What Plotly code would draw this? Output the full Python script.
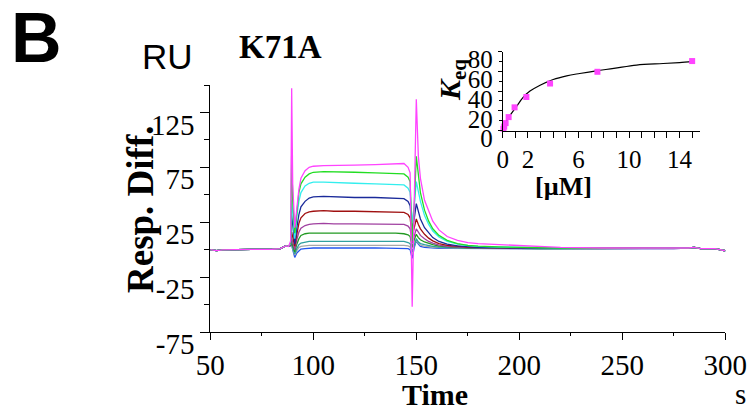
import plotly.graph_objects as go

# ---------------- data ----------------
time_s = [50, 53, 56, 60, 70, 80, 84, 86, 87, 88, 89, 89.5, 90, 91, 92, 93, 94, 96, 98, 100,
          105, 110, 120, 130, 140, 144, 146, 147, 148, 149, 150, 151, 152, 154, 156, 158, 161,
          165, 170, 175, 180, 190, 200, 210, 220, 240, 260, 275, 282, 285, 288, 295, 298, 300]

pre = [0, -0.8, -0.2, 0.1, 0.2, 0.4, 1, 3, 3.5, 3]
tail_hi = [1.2, 1, 1.5, 2, 1, 1, -0.5, -1]

resp_magenta = pre + [8, 147, 60, 20, 40, 55, 65, 72, 75, 76, 76.5, 76.5, 77, 77.5, 78, 78.5, 75, 70,
                      -52, 45, 137, 85, 65, 45, 35, 26, 18, 12, 8.5, 6.5, 5.5, 4.5, 3.5, 3, 2, 1.5] + tail_hi
resp_green = pre + [6, 90, 45, 15, 35, 52, 60, 66, 69, 70.5, 71, 71, 70.5, 70, 69.5, 69, 66, 62,
                    8, 40, 85, 65, 52, 36, 26, 19, 13, 8.5, 5.5, 4, 3.2, 2.5, 2, 1.8, 1.5, 1.2] + tail_hi
resp_cyan = pre + [5, 45, 30, 10, 30, 44, 52, 58, 60.5, 61.5, 61.5, 61, 60.5, 60, 59.5, 59, 56, 52,
                   25, 40, 62, 52, 44, 31, 23, 17, 11.5, 7.5, 5, 3.8, 3, 2.3, 2, 1.7, 1.5, 1.2] + tail_hi
resp_navy = pre + [4.5, 32, 22, 5, 20, 32, 39, 44, 47, 48, 48.5, 48, 47.5, 47.5, 47, 46.5, 44, 40,
                   18, 28, 42, 34, 28, 20, 15, 11, 7.5, 5, 3.5, 2.7, 2.2, 1.8, 1.5, 1.4, 1.3, 1.1] + tail_hi
resp_red = pre + [4, 16, 12, 3, 14, 24, 29, 33, 34.5, 35, 35.5, 35, 35, 34.5, 34.5, 34, 32, 29,
                  12, 20, 28, 23, 19, 14, 10.5, 8, 5.5, 4, 3, 2.4, 2, 1.6, 1.4, 1.3, 1.2, 1.1] + tail_hi
resp_purple = pre + [4, 10, 7, 0, 9, 16, 19.5, 22, 23, 23.5, 24, 23.5, 23.5, 23.5, 23, 23, 21.5, 19,
                     6, 13, 19, 16, 13, 10, 7.5, 6, 4.2, 3, 2.3, 1.9, 1.6, 1.3, 1.2, 1.1, 1.1, 1] + tail_hi
resp_green2 = pre + [4, 7, 4, -2, 5, 10, 13, 14.5, 15, 15, 15.5, 15, 15, 15, 15, 14.5, 13.5, 12,
                     2, 9, 14, 11, 9, 7, 5.5, 4.5, 3.3, 2.5, 2, 1.6, 1.4, 1.2, 1.1, 1, 1, 1] + tail_hi
resp_teal = pre + [4, 5, 2, -4, 1, 4.5, 6, 7, 7.5, 7.5, 7.8, 7.5, 7.5, 7.6, 7.5, 7.5, 6.5, 5.5,
                   -2, 5, 10, 7, 5.5, 4.5, 3.5, 3, 2.4, 2, 1.6, 1.4, 1.2, 1.1, 1, 1, 0.9, 0.9] + tail_hi
resp_gray = pre + [4, 4, 1, -5, -1, 2, 3, 3.8, 4, 4, 4.2, 4, 4, 4.1, 4, 4, 3.5, 2.5,
                   -4, 4, 8, 5.5, 4, 3.2, 2.6, 2.2, 1.8, 1.5, 1.3, 1.2, 1.1, 1, 0.9, 0.9, 0.8, 0.8] + tail_hi
resp_blue = pre + [4, 4, 0, -7, -3, -1, 0.5, 1, 1.5, 1.5, 1.7, 1.5, 1.5, 1.6, 1.5, 1.5, 1, 0,
                   -8, 2, 8, 5, 3, 2, 1.6, 1.3, 1.2, 1.1, 1, 0.9, 0.9, 0.8, 0.8, 0.8, 0.7, 0.7] + tail_hi

series = [
    ("magenta", resp_magenta, "#ff44ff"),
    ("green", resp_green, "#22dd22"),
    ("cyan", resp_cyan, "#33eeee"),
    ("navy", resp_navy, "#1a2a9a"),
    ("red", resp_red, "#a01010"),
    ("purple", resp_purple, "#a040a0"),
    ("green2", resp_green2, "#229922"),
    ("teal", resp_teal, "#30a0a0"),
    ("gray", resp_gray, "#a8a8a8"),
    ("blue", resp_blue, "#2255ee"),
]

# inset: equilibrium response vs concentration
conc_uM = [0.06, 0.12, 0.23, 0.47, 0.94, 1.875, 3.75, 7.5, 15]
keq = [1.7, 4, 7.5, 13.6, 23.5, 34, 47.7, 59.6, 70.5]
fit_conc = [0.26, 0.58, 1.1, 1.6, 2.16, 2.96, 4.0, 5.07, 6.1, 7.4, 8.8, 10.6, 12.7, 14, 15]
fit_keq = [8.5, 15.3, 24.5, 33.4, 40, 46, 51.8, 55.5, 57.9, 60.6, 63, 66.4, 68, 69, 70]

x_ticks = [50, 100, 150, 200, 250, 300]
y_ticks = [-75, -25, 25, 75, 125]
y_labels = ["-75", "-25", "25", "75", "125"]
inset_x_ticks = list(range(0, 16))
inset_x_labels = ["0", "", "2", "", "", "", "6", "", "", "", "10", "", "", "", "14", ""]

# ---------------- figure ----------------
W, H = 752, 411
def px(x):
    return x / W
def py(y):
    return 1 - y / H

SERIF = "Times New Roman, Liberation Serif, serif"
SANS = "Arial, Liberation Sans, sans-serif"

fig = go.Figure()
for name, vals, col in series[::-1]:
    fig.add_trace(go.Scatter(x=time_s, y=vals, mode="lines", name=name,
                             line=dict(color=col, width=1.3), xaxis="x", yaxis="y",
                             showlegend=False))

fig.add_trace(go.Scatter(x=fit_conc, y=fit_keq, mode="lines", line=dict(color="black", width=1.2, shape="spline"),
                         xaxis="x2", yaxis="y2", showlegend=False))
fig.add_trace(go.Scatter(x=conc_uM, y=keq, mode="markers",
                         marker=dict(symbol="square", size=6, color="#ff44ff"),
                         xaxis="x2", yaxis="y2", showlegend=False, cliponaxis=False))

axis_common = dict(showline=True, linecolor="black", linewidth=1, showgrid=False, zeroline=False,
                   ticks="outside", tickcolor="black", tickwidth=1, automargin=False)

fig.update_layout(
    template="none",
    font=dict(family=SERIF, color="black"),
    width=W, height=H, margin=dict(l=0, r=0, t=0, b=0, pad=0), autosize=False,
    paper_bgcolor="white", plot_bgcolor="rgba(0,0,0,0)",
    xaxis=dict(axis_common, domain=[px(210.3), px(725.3)], range=[50, 300], anchor="y",
               tickvals=x_ticks, ticklen=7,
               tickfont=dict(family=SERIF, size=29, color="black"),
               minor=dict(ticks="outside", ticklen=3, dtick=25, tick0=50, tickcolor="black")),
    yaxis=dict(axis_common, domain=[py(332), py(85)], range=[-75, 150], anchor="x",
               tickvals=y_ticks, ticktext=y_labels, ticklen=9, ticklabelshift=12,
               tickfont=dict(family=SERIF, size=29, color="black"),
               minor=dict(ticks="outside", ticklen=5, tickvals=[-50, 0, 50, 100, 150], tickcolor="black")),
    xaxis2=dict(axis_common, domain=[px(502.7), px(502.7 + 12.63 * 15.6)], range=[0, 15.6], anchor="y2",
                tickvals=inset_x_ticks, ticktext=inset_x_labels, ticklen=6,
                tickfont=dict(family=SERIF, size=25, color="black")),
    yaxis2=dict(axis_common, domain=[py(130.5), py(51.7)], range=[0, 80], anchor="x2",
                tick0=0, dtick=20, ticklen=4, ticklabelshift=8,
                tickfont=dict(family=SERIF, size=25, color="black"),
                minor=dict(ticks="outside", ticklen=3, dtick=10, tickcolor="black")),
)

ann = [
    dict(text="<b>B</b>", x=px(36), y=py(38), font=dict(family=SANS, size=70, color="black")),
    dict(text="RU", x=px(167), y=py(57), font=dict(family=SANS, size=35, color="black")),
    dict(text="<b>K71A</b>", x=px(280), y=py(47), font=dict(family=SERIF, size=33, color="black")),
    dict(text="<b>Resp. Diff.</b>", x=px(140), y=py(209), textangle=-90,
         font=dict(family=SERIF, size=37, color="black")),
    dict(text="<b>Time</b>", x=px(435), y=py(394), font=dict(family=SERIF, size=30, color="black")),
    dict(text="s", x=px(740), y=py(394), font=dict(family=SERIF, size=29, color="black")),
    dict(text="<b>[µM]</b>", x=px(563), y=py(186), font=dict(family=SERIF, size=26, color="black")),
    dict(text="<b><i>K</i></b><sub><b>eq</b></sub>", x=px(452), y=py(80), textangle=-90,
         font=dict(family=SERIF, size=30, color="black")),
]
for a in ann:
    a.update(xref="paper", yref="paper", showarrow=False, xanchor="center", yanchor="middle")
fig.update_layout(annotations=ann)

fig.write_html("out.html")
